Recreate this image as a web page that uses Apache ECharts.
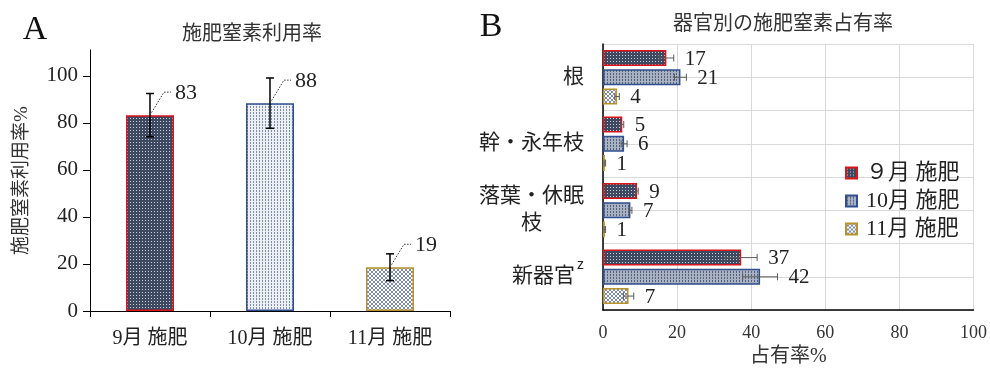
<!DOCTYPE html>
<html><head><meta charset="utf-8">
<script src="https://cdn.jsdelivr.net/npm/echarts@6/dist/echarts.min.js"></script>
<style>html,body{margin:0;padding:0;background:#fff}#c{width:990px;height:372px}</style>
</head><body><div id="c"></div>
<script>
const FONT = '"Liberation Serif", "Noto Sans CJK JP", serif';
const CJK = '"Noto Sans CJK JP", sans-serif';

// ---- Panel A data ----
const catsA = ['9月 施肥', '10月 施肥', '11月 施肥'];
const useRate = [83.3, 88.4, 18.6];
const useErr = [9.2, 10.7, 5.7];
const ticksA = [0, 20, 40, 60, 80, 100];

// ---- Panel B data ----
const organs = ['根', '幹・永年枝', '落葉・休眠枝', '新器官'];
const seriesNamesB = ['９月 施肥', '10月 施肥', '11月 施肥'];
const share9 = [17.1, 5.2, 9.2, 37.3];
const share10 = [20.9, 5.7, 7.4, 42.4];
const share11 = [3.8, 0.5, 0.5, 6.9];
const err9 = [2.0, 0.4, 0.3, 4.3];
const err10 = [1.6, 0.8, 0.4, 4.7];
const err11 = [0.6, 0.2, 0.2, 1.4];

function pattern(kind) {
  const c = document.createElement('canvas');
  const ctx = c.getContext('2d');
  if (kind === 'dark') {
    c.width = 3; c.height = 3;
    ctx.fillStyle = '#3d4960'; ctx.fillRect(0, 0, 3, 3);
    ctx.fillStyle = '#c9ced8'; ctx.fillRect(1, 1, 1, 1);
  } else if (kind === 'light') {
    c.width = 3; c.height = 3;
    ctx.fillStyle = '#eceff4'; ctx.fillRect(0, 0, 3, 3);
    ctx.fillStyle = '#7f8ca6'; ctx.fillRect(1, 1, 1, 1); ctx.fillRect(1, 2, 1, 1);
  } else if (kind === 'mid') {
    c.width = 3; c.height = 3;
    ctx.fillStyle = '#a9b2c3'; ctx.fillRect(0, 0, 3, 3);
    ctx.fillStyle = '#55627e'; ctx.fillRect(1, 1, 1, 1); ctx.fillRect(1, 2, 1, 1);
  } else {
    c.width = 4; c.height = 4;
    ctx.fillStyle = '#ffffff'; ctx.fillRect(0, 0, 4, 4);
    ctx.fillStyle = '#7d8dab';
    for (let i = 0; i < 4; i++) { ctx.fillRect(i, i, 1, 1); ctx.fillRect(i, 3 - i, 1, 1); }
  }
  return { image: c, repeat: 'repeat' };
}

const bordersB = ['#d9141b', '#2f4f8f', '#b8922a'];
const fillsA = [pattern('dark'), pattern('light'), pattern('cross')];
const fillsB = [pattern('dark'), pattern('mid'), pattern('cross')];
const sharesB = [share9, share10, share11];
const errsB = [err9, err10, err11];

const chart = echarts.init(document.getElementById('c'), null, { renderer: 'canvas' });

const customA = {
  type: 'custom', xAxisIndex: 0, yAxisIndex: 0, z: 10, silent: true,
  data: useRate.map((v, i) => [i, v, useErr[i]]),
  encode: { x: 0, y: 1 },
  renderItem(params, api) {
    const i = api.value(0), v = api.value(1), e = api.value(2);
    const top = api.coord([i, v]);
    const hi = api.coord([i, v + e]);
    const lo = api.coord([i, v - e]);
    const cx = top[0];
    const st = { stroke: '#000', lineWidth: 1.5 };
    return { type: 'group', children: [
      { type: 'line', shape: { x1: cx, y1: hi[1], x2: cx, y2: lo[1] }, style: st },
      { type: 'line', shape: { x1: cx - 4, y1: hi[1], x2: cx + 4, y2: hi[1] }, style: st },
      { type: 'line', shape: { x1: cx - 4, y1: lo[1], x2: cx + 4, y2: lo[1] }, style: st },
      { type: 'polyline', shape: { points: [[cx, top[1]], [cx + 14, top[1] - 23], [cx + 21, top[1] - 23]] },
        style: { stroke: '#333', lineWidth: 1, lineDash: [1.5, 1.5], fill: 'none' } },
      { type: 'text', x: cx + 25, y: top[1] - 22,
        style: { text: String(Math.round(v)), font: '22px ' + FONT, fill: '#222', align: 'left', verticalAlign: 'middle' } }
    ]};
  }
};

const customBData = [];
sharesB.forEach((arr, k) => arr.forEach((v, c) => customBData.push([v, c, errsB[k][c], k])));

const customB = {
  type: 'custom', xAxisIndex: 1, yAxisIndex: 1, z: 10, silent: true,
  data: customBData,
  encode: { x: 0, y: 1 },
  renderItem(params, api) {
    const v = api.value(0), c = api.value(1), e = api.value(2), k = api.value(3);
    const band = api.size([0, 1])[1];
    const bw = band * (1 - 0.18) / 3.4;
    const yc = api.coord([v, c])[1] + (k - 1) * bw * 1.2;
    const x1 = api.coord([v - e, c])[0];
    const x2 = api.coord([v + e, c])[0];
    const st = { stroke: '#595959', lineWidth: 1 };
    return { type: 'group', children: [
      { type: 'line', shape: { x1: x1, y1: yc, x2: x2, y2: yc }, style: st },
      { type: 'line', shape: { x1: x1, y1: yc - 3.5, x2: x1, y2: yc + 3.5 }, style: st },
      { type: 'line', shape: { x1: x2, y1: yc - 3.5, x2: x2, y2: yc + 3.5 }, style: st },
      { type: 'text', x: x2 + 11, y: yc + 1,
        style: { text: String(Math.round(v)), font: '21px ' + FONT, fill: '#222', align: 'left', verticalAlign: 'middle' } }
    ]};
  }
};

const option = {
  animation: false,
  backgroundColor: '#fff',
  textStyle: { fontFamily: FONT },
  graphic: [
    { type: 'text', x: 35, y: 30, style: { text: 'A', font: '34px ' + FONT, fill: '#111', align: 'center', verticalAlign: 'middle' } },
    { type: 'text', x: 491, y: 27, style: { text: 'B', font: '34px ' + FONT, fill: '#111', align: 'center', verticalAlign: 'middle' } },
    { type: 'text', x: 252, y: 32, style: { text: '施肥窒素利用率', font: '20px ' + CJK, fill: '#333', align: 'center', verticalAlign: 'middle' } },
    { type: 'text', x: 783, y: 22, style: { text: '器官別の施肥窒素占有率', font: '20px ' + CJK, fill: '#333', align: 'center', verticalAlign: 'middle' } }
  ],
  legend: {
    orient: 'vertical', left: 840, top: 157, itemWidth: 11, itemHeight: 11, itemGap: 6,
    icon: 'rect', data: seriesNamesB,
    textStyle: { fontFamily: FONT, fontSize: 22, color: '#222', padding: [0, 0, 0, 4] }
  },
  grid: [
    { left: 90, top: 50, width: 360, height: 261 },
    { left: 603, top: 44, width: 371, height: 268.5 }
  ],
  xAxis: [
    { gridIndex: 0, type: 'category', data: catsA,
      axisLine: { lineStyle: { color: '#000', width: 1 } },
      axisTick: { show: true, length: 6, lineStyle: { color: '#000' } },
      axisLabel: { fontFamily: FONT, fontSize: 20, color: '#222', margin: 18 } },
    { gridIndex: 1, type: 'value', min: 0, max: 100, interval: 20,
      axisLine: { show: true, lineStyle: { color: '#000', width: 1.5 } },
      axisTick: { show: false },
      axisLabel: { fontFamily: FONT, fontSize: 18, color: '#333', margin: 14 },
      splitLine: { show: true, lineStyle: { color: '#d9d9d9', width: 1 } },
      name: '占有率%', nameLocation: 'middle', nameGap: 36,
      nameTextStyle: { fontFamily: FONT, fontSize: 20, color: '#333' } }
  ],
  yAxis: [
    { gridIndex: 0, type: 'value', min: 0, max: 111,
      axisLine: { show: true, lineStyle: { color: '#000', width: 1 } },
      axisTick: { show: true, length: 7, customValues: ticksA, lineStyle: { color: '#000' } },
      axisLabel: { customValues: ticksA, fontFamily: FONT, fontSize: 21, color: '#222', margin: 12 },
      splitLine: { show: false },
      name: '施肥窒素利用率%', nameLocation: 'middle', nameRotate: 90, nameGap: 58,
      nameTextStyle: { fontFamily: FONT, fontSize: 19, color: '#333' } },
    { gridIndex: 1, type: 'category', data: organs, inverse: true,
      axisLine: { show: true, lineStyle: { color: '#000', width: 1.5 } },
      axisTick: { show: false },
      splitLine: { show: false },
      axisLabel: {
        fontFamily: FONT, fontSize: 21, color: '#222', margin: 19,
        formatter: function (name) {
          if (name.length > 5) return '{a|' + name.slice(0, 5) + '}\n{c|' + name.slice(5) + '}';
          if (name === '新器官') return '{b|' + name + '}{s|z}';
          return name;
        },
        rich: {
          a: { fontFamily: FONT, fontSize: 21, color: '#222', lineHeight: 27 },
          c: { fontFamily: FONT, fontSize: 21, color: '#222', lineHeight: 27, align: 'center' },
          b: { fontFamily: FONT, fontSize: 21, color: '#222', lineHeight: 37 },
          s: { fontFamily: 'Liberation Sans, sans-serif', fontSize: 14, color: '#222', lineHeight: 14, verticalAlign: 'top', padding: [0, 0, 0, 2] }
        }
      } },
    { gridIndex: 1, type: 'value', min: 0, max: 8, interval: 1, position: 'right',
      axisLine: { show: false }, axisTick: { show: false }, axisLabel: { show: false },
      splitLine: { show: true, lineStyle: { color: '#d9d9d9', width: 1 } } }
  ],
  series: [
    { name: 'A', type: 'bar', xAxisIndex: 0, yAxisIndex: 0, barWidth: '40%',
      data: useRate.map((v, i) => ({ value: v, itemStyle: { color: fillsA[i], borderColor: bordersB[i], borderWidth: 1.5 } })) },
    customA
  ].concat(seriesNamesB.map((nm, k) => ({
    name: nm, type: 'bar', xAxisIndex: 1, yAxisIndex: 1,
    barGap: '20%', barCategoryGap: '18%',
    itemStyle: { color: fillsB[k], borderColor: bordersB[k], borderWidth: 1.5 },
    data: sharesB[k]
  }))).concat([customB])
};
chart.setOption(option);
</script>
</body></html>
